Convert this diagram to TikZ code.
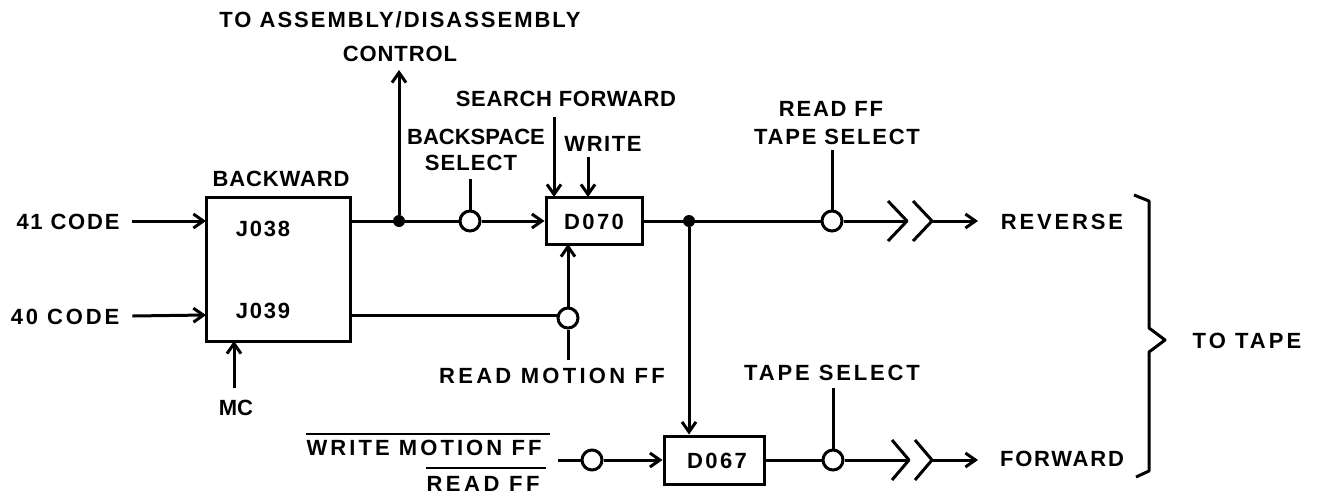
\documentclass[tikz,border=0pt]{standalone}
\usepackage{fontspec}
\usepackage{tikz}
\usetikzlibrary{arrows.meta, positioning}
\setmainfont{Liberation Sans Bold}
\tikzset{
  wire/.style={line width=3pt, line join=round},
  arr/.style={wire, -{Straight Barb[length=10pt, width=14pt, line width=3pt]}},
  blockbox/.style={draw, line width=3pt, inner sep=0pt},
  inv/.style={circle, draw, fill=white, line width=3pt, minimum size=20pt, inner sep=0pt},
  junc/.style={circle, fill=black, minimum size=12pt, inner sep=0pt},
  lbl/.style={inner sep=0pt, text height=16pt, text depth=0pt,
    font=\fontsize{22}{22}\selectfont\addfontfeature{LetterSpace=#1}},
}

\begin{document}
\begin{tikzpicture}[x=1pt, y=-1pt]
  \useasboundingbox (0,0) rectangle (1321,498);
  % blocks
  \node[blockbox, minimum width=144pt, minimum height=144pt] (backward) at (278,269) {};
  \node[blockbox, minimum width=96pt, minimum height=47pt] (d070) at (594,221) {};
  \node[blockbox, minimum width=100pt, minimum height=48pt] (d067) at (714,460) {};
  \node[lbl=11] (d070txt) at (594,221) {D070};
  \node[lbl=11] (d067txt) at (717,460) {D067};
  \node[lbl=4] (backtxt) at (281,178) {BACKWARD};
  \node[lbl=8] (j038) at (263,228) {J038};
  \node[lbl=8] (j039) at (263,310) {J039};
  % input labels
  \node[lbl=8] (c41) at (68,221) {41 CODE};
  \node[lbl=13] (c40) at (65,316) {40 CODE};
  \node[lbl=0] (mc) at (236,407) {MC};
  \node[lbl=9] (asm) at (400,19) {TO ASSEMBLY/DISASSEMBLY};
  \node[lbl=4] (ctrl) at (400,53) {CONTROL};
  \node[lbl=3] (search) at (566,98) {SEARCH FORWARD};
  \node[lbl=0] (bksp) at (476,136) {BACKSPACE};
  \node[lbl=5] (sel) at (471,162) {SELECT};
  \node[lbl=7] (wr) at (603,143) {WRITE};
  \node[lbl=15] (rmff) at (552,375) {READ MOTION FF};
  \node[lbl=14] (wmff) at (424,447) {WRITE MOTION FF};
  \node[lbl=16] (rdffb) at (483,483) {READ FF};
  \node[lbl=8] (rdff) at (831,108) {READ FF};
  \node[lbl=8] (tsa) at (837,136) {TAPE SELECT};
  \node[lbl=13] (tsb) at (832,372) {TAPE SELECT};
  \node[lbl=13] (rev) at (1062,221) {REVERSE};
  \node[lbl=8] (fwd) at (1062,458) {FORWARD};
  \node[lbl=14] (totape) at (1247,340) {TO TAPE};
  % points on the wires
  \coordinate (j38in) at (206,221);
  \coordinate (j39in) at (206,315);
  \coordinate (j38out) at (350,221);
  \coordinate (j39out) at (350,315);
  \coordinate (mcin) at (234,341);
  \coordinate (mcend) at (234,388);
  \coordinate (ctrlend) at (399,70);
  \coordinate (searchst) at (554,117);
  \coordinate (searchin) at (554,197);
  \coordinate (writest) at (588,157);
  \coordinate (writein) at (588,197);
  \coordinate (d070out) at (642,221);
  \coordinate (d070in) at (568,244);
  \coordinate (wmst) at (558,460);
  \coordinate (tipa) at (907,221);
  \coordinate (tipb) at (932,221);
  \coordinate (tipc) at (909,460);
  \coordinate (tipd) at (932,460);
  \coordinate (reva) at (978,221);
  \coordinate (fwda) at (978,460);
  % gates and joins
  \node[junc] (ja) at (399,221) {};
  \node[junc] (jb) at (689,221) {};
  \node[inv] (bsinv) at (470,221) {};
  \node[inv] (rminv) at (568,318) {};
  \node[inv] (wminv) at (592,460) {};
  \node[inv] (tsinva) at (832,221) {};
  \node[inv] (tsinvb) at (833,460) {};
  % connectors
  \draw[arr] (c41.east) ++(12,0) -- (j38in);
  \draw[arr] (c40.east) ++(13,0) -- (j39in);
  \draw[arr] (mcend) -- (mcin);
  \draw[wire] (j38out) -- (bsinv);
  \draw[arr] (bsinv) -- (d070.west);
  \draw[arr] (ja) -- (ctrlend);
  \draw[wire] (bsinv |- sel.south) ++(0,9) -- (bsinv);
  \draw[arr] (searchst) -- (searchin);
  \draw[arr] (writest) -- (writein);
  \draw[wire] (j39out) -- (rminv.west |- j39out);
  \draw[arr] (rminv) -- (d070in);
  \draw[wire] (rminv) -- ([yshift=7pt]rminv |- rmff.north);
  \draw[wire] (d070out) -- (tsinva);
  \draw[arr] (jb) -- (jb |- d067.north);
  \draw[wire] (tsinva |- tsa.south) ++(0,6) -- (tsinva);
  \draw[wire] (tsinva) -- (tipa);
  \draw[wire] (tipa) ++(-19,-20) -- (tipa) -- ++(-19,20);
  \draw[wire] (tipb) ++(-19,-20) -- (tipb) -- ++(-19,20);
  \draw[arr] (tipb) -- (reva);
  \draw[wire] (wmst) -- (wminv);
  \draw[arr] (wminv) -- (d067.west);
  \draw[wire] (d067.east) -- (tsinvb);
  \draw[wire] (tsinvb |- tsb.south) ++(0,8) -- (tsinvb);
  \draw[wire] (tsinvb) -- (tipc);
  \draw[wire] (tipc) ++(-17,-20) -- (tipc) -- ++(-17,20);
  \draw[wire] (tipd) ++(-17,-20) -- (tipd) -- ++(-17,20);
  \draw[arr] (tipd) -- (fwda);
  % overbars and the brace
  \draw[line width=2.4pt] (wmff.north west) ++(0,-5) -- ++(244,0);
  \draw[line width=2.4pt] (rdffb.north west) ++(0,-7) -- ++(120,0);
  \draw[wire] (1134,195) -- (1149,201) -- (1149,328) -- (1165,340) -- (1149,352) -- (1149,471) -- (1136,477);
\end{tikzpicture}
\end{document}
